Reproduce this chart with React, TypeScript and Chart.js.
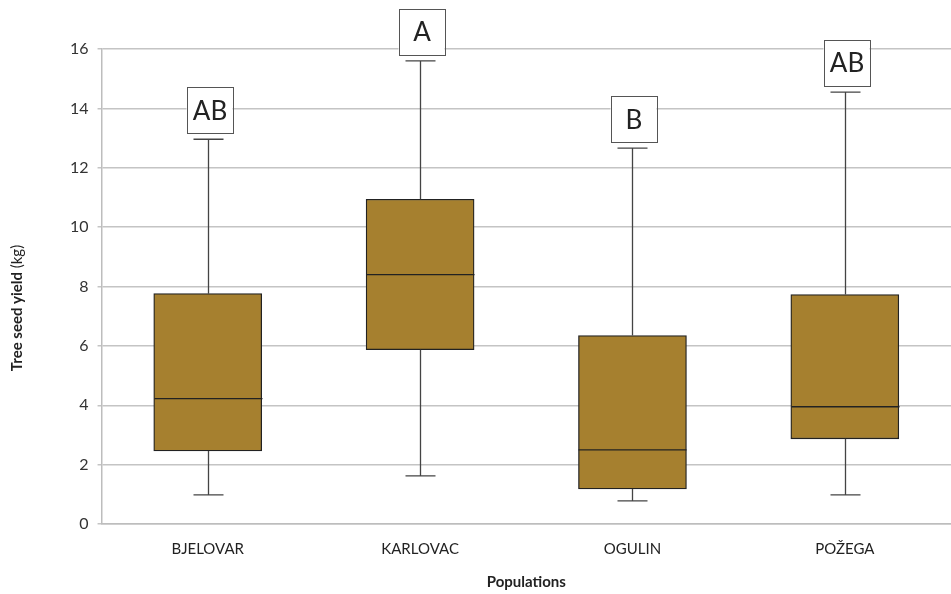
import React, { useEffect, useRef } from "react";
import { Chart, registerables } from "chart.js";

Chart.register(...registerables);

const categories = ["BJELOVAR", "KARLOVAC", "OGULIN", "POŽEGA"];
const minValues = [0.98, 1.62, 0.78, 0.98];
const q1Values = [2.46, 5.87, 1.18, 2.87];
const medianValues = [4.22, 8.4, 2.5, 3.95];
const q3Values = [7.76, 10.94, 6.35, 7.73];
const maxValues = [12.96, 15.6, 12.66, 14.55];
const groupLetters = ["AB", "A", "B", "AB"];
const yMin = 0;
const yMax = 16;
const yStep = 2;

const FONT = "Lato, 'Open Sans', sans-serif";

const boxPlugin = {
  id: "boxExtras",
  afterDatasetsDraw(chart: any) {
    const ctx = chart.ctx as CanvasRenderingContext2D;
    const xs = chart.scales.x;
    const ys = chart.scales.y;
    ctx.save();
    categories.forEach((_, i) => {
      const x = Math.round(xs.getPixelForValue(i)) + 0.5;
      const pMin = ys.getPixelForValue(minValues[i]);
      const pQ1 = ys.getPixelForValue(q1Values[i]);
      const pMed = ys.getPixelForValue(medianValues[i]);
      const pQ3 = ys.getPixelForValue(q3Values[i]);
      const pMax = ys.getPixelForValue(maxValues[i]);
      const capHalf = 15;
      ctx.strokeStyle = "#444";
      ctx.lineWidth = 1.3;
      ctx.beginPath();
      ctx.moveTo(x, pQ3);
      ctx.lineTo(x, pMax);
      ctx.moveTo(x - capHalf, pMax);
      ctx.lineTo(x + capHalf, pMax);
      ctx.moveTo(x, pQ1);
      ctx.lineTo(x, pMin);
      ctx.moveTo(x - capHalf, pMin);
      ctx.lineTo(x + capHalf, pMin);
      ctx.stroke();
      // median
      ctx.strokeStyle = "#222";
      ctx.lineWidth = 1.3;
      ctx.beginPath();
      ctx.moveTo(x - 54, pMed);
      ctx.lineTo(x + 54, pMed);
      ctx.stroke();
      // letter box
      const size = 46;
      const bx = x + 1 - size / 2;
      const by = pMax - 6 - size;
      ctx.fillStyle = "#fff";
      ctx.fillRect(bx, by, size, size);
      ctx.strokeStyle = "#555";
      ctx.lineWidth = 1;
      ctx.strokeRect(Math.round(bx) + 0.5, Math.round(by) + 0.5, size, size);
      ctx.fillStyle = "#222";
      ctx.font = `26px ${FONT}`;
      ctx.textAlign = "center";
      ctx.textBaseline = "middle";
      ctx.fillText(groupLetters[i], bx + size / 2 + 0.5, by + size / 2 + 1);
    });
    ctx.restore();
  },
  afterDraw(chart: any) {
    const ctx = chart.ctx as CanvasRenderingContext2D;
    ctx.save();
    ctx.translate(17, 308);
    ctx.rotate(-Math.PI / 2);
    const boldPart = "Tree seed yield ";
    const normalPart = "(kg)";
    ctx.font = `bold 15px ${FONT}`;
    const w1 = ctx.measureText(boldPart).width;
    ctx.font = `15px ${FONT}`;
    const w2 = ctx.measureText(normalPart).width;
    const start = -(w1 + w2) / 2;
    ctx.fillStyle = "#222";
    ctx.textBaseline = "middle";
    ctx.textAlign = "left";
    ctx.font = `bold 15px ${FONT}`;
    ctx.fillText(boldPart, start, 0);
    ctx.font = `15px ${FONT}`;
    ctx.fillText(normalPart, start + w1, 0);
    ctx.restore();
  },
};

export default function App() {
  const ref = useRef<HTMLCanvasElement | null>(null);
  useEffect(() => {
    if (!ref.current) return;
    const chart = new Chart(ref.current, {
      type: "bar",
      data: {
        labels: categories,
        datasets: [
          {
            label: "Tree seed yield",
            data: categories.map((_, i) => [q1Values[i], q3Values[i]]) as any,
            backgroundColor: "#A6802F",
            borderColor: "#222",
            borderWidth: 1.3,
            borderSkipped: false,
            barThickness: 108,
          },
        ],
      },
      options: {
        animation: false,
        responsive: true,
        maintainAspectRatio: false,
        layout: { padding: { top: 49, right: 0, left: 61, bottom: 0 } },
        plugins: {
          legend: { display: false },
          tooltip: { enabled: false },
        },
        scales: {
          x: {
            grid: { display: false },
            border: { display: true, color: "#bdbdbd", width: 1.5 },
            ticks: { color: "#222", font: { family: FONT, size: 15 }, padding: 8 },
            title: {
              display: true,
              text: "Populations",
              color: "#222",
              font: { family: FONT, size: 15, weight: "bold" },
              padding: { top: 7, bottom: 3 },
            },
          },
          y: {
            min: yMin,
            max: yMax,
            ticks: { stepSize: yStep, color: "#333", font: { family: FONT, size: 16 }, padding: 9 },
            grid: { color: "#c4c4c4", lineWidth: 1.5, tickLength: 4, drawTicks: true },
            border: { display: true, color: "#bdbdbd", width: 1.5 },
          },
        },
      },
      plugins: [boxPlugin],
    });
    return () => chart.destroy();
  }, []);
  return (
    <div style={{ position: "absolute", left: 0, top: 0, width: 951, height: 594, background: "#fff" }}>
      <canvas ref={ref} />
    </div>
  );
}
